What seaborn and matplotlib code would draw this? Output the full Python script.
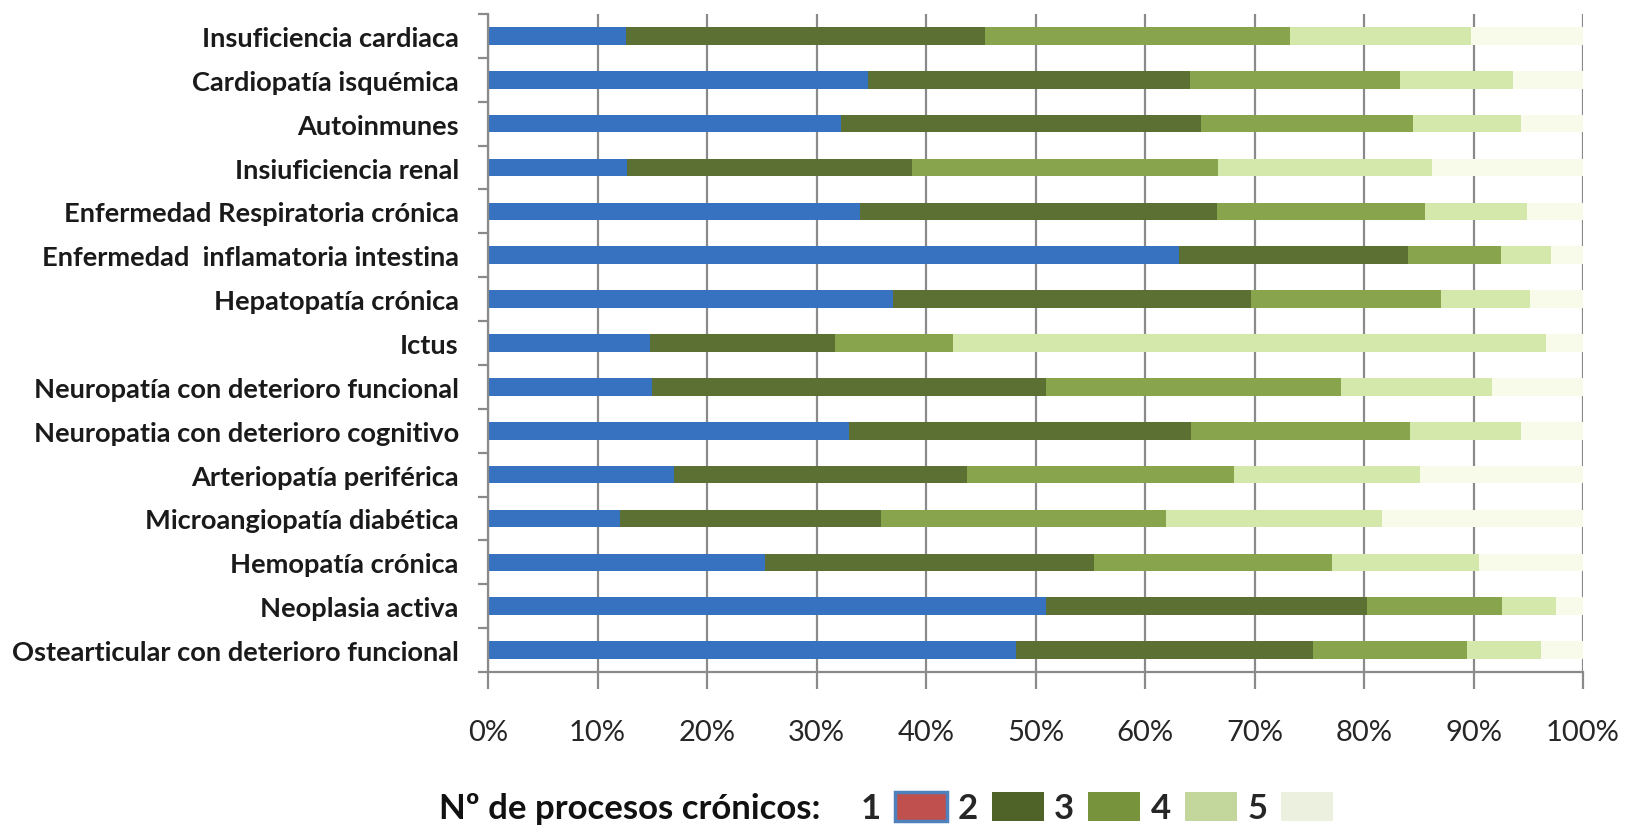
import matplotlib
matplotlib.use("Agg")
import matplotlib.pyplot as plt
from matplotlib.patches import Patch
from matplotlib.ticker import FixedLocator, PercentFormatter
import numpy as np
import pandas as pd
import seaborn as sns

# Chronic conditions (top to bottom)
categories = [
    "Insuficiencia cardiaca",
    "Cardiopatía isquémica",
    "Autoinmunes",
    "Insiuficiencia renal",
    "Enfermedad Respiratoria crónica",
    "Enfermedad  inflamatoria intestina",
    "Hepatopatía crónica",
    "Ictus",
    "Neuropatía con deterioro funcional",
    "Neuropatia con deterioro cognitivo",
    "Arteriopatía periférica",
    "Microangiopatía diabética",
    "Hemopatía crónica",
    "Neoplasia activa",
    "Ostearticular con deterioro funcional",
]

# Share of patients (%) by number of chronic processes
procesos_1 = [12.6, 34.7, 32.2, 12.7, 34.0, 63.1, 37.0, 14.8, 15.0, 33.0, 17.0, 12.1, 25.3, 51.0, 48.2]
procesos_2 = [32.8, 29.4, 32.9, 26.0, 32.6, 20.9, 32.7, 16.9, 36.0, 31.2, 26.7, 23.8, 30.0, 29.3, 27.1]
procesos_3 = [27.8, 19.2, 19.4, 28.0, 19.0, 8.5, 17.3, 10.8, 26.9, 20.0, 24.4, 26.0, 21.8, 12.3, 14.1]
procesos_4 = [16.6, 10.3, 9.8, 19.5, 9.3, 4.6, 8.2, 54.1, 13.8, 10.1, 17.0, 19.7, 13.4, 4.9, 6.8]
procesos_5 = [10.2, 6.4, 5.7, 13.8, 5.1, 2.9, 4.8, 3.4, 8.3, 5.7, 14.9, 18.4, 9.5, 2.5, 3.8]

series_labels = ["1", "2", "3", "4", "5"]
legend_title = "Nº de procesos crónicos:"

bar_colors = ["#3672BF", "#5C7033", "#88A44C", "#D5E8AC", "#F8FBEA"]
legend_colors = ["#C0504D", "#4F6228", "#77933C", "#C3D69B", "#EBF1DE"]

df = pd.DataFrame({
    "categoria": categories,
    "1": procesos_1, "2": procesos_2, "3": procesos_3,
    "4": procesos_4, "5": procesos_5,
})
cum = df[series_labels].cumsum(axis=1)

sns.set_theme(style="white")
label_font = ["Lato", "DejaVu Sans"]
plt.rcParams["font.family"] = label_font

fig = plt.figure(figsize=(16.26, 8.29), dpi=100)
ax = fig.add_axes([488 / 1626, 156 / 829, 1095 / 1626, 658 / 829])

# Stacked bars: draw cumulative totals from the outermost segment inwards
for key, color in reversed(list(zip(series_labels, bar_colors))):
    sns.barplot(x=cum[key], y=df["categoria"], orient="h", color=color,
                width=0.4, saturation=1, ax=ax, linewidth=0, zorder=2)

ax.set_xlim(0, 100)
ax.set_ylim(len(categories) - 0.5, -0.5)
ax.set_xlabel("")
ax.set_ylabel("")

grid_color = "#8A8A8A"
ax.set_xticks(np.arange(0, 101, 10))
ax.xaxis.set_major_formatter(PercentFormatter(decimals=0))
ax.set_axisbelow(True)
ax.grid(axis="x", color=grid_color, linewidth=1.6, zorder=0)
ax.grid(axis="y", visible=False)

for side in ["top", "right"]:
    ax.spines[side].set_visible(False)
for side in ["left", "bottom"]:
    ax.spines[side].set_color(grid_color)
    ax.spines[side].set_linewidth(1.6)

ax.yaxis.set_minor_locator(FixedLocator(np.arange(-0.5, len(categories), 1.0)))
ax.tick_params(axis="y", which="major", length=0, pad=21,
               labelsize=19.6, labelcolor="#1A1A1A")
ax.tick_params(axis="y", which="minor", left=True, length=7,
               width=1.6, color=grid_color)
ax.tick_params(axis="x", which="major", bottom=True, length=12, width=1.6,
               color=grid_color, pad=22, labelsize=21, labelcolor="#262626")
for lbl in ax.get_yticklabels():
    lbl.set_fontweight("bold")

# Legend: title text followed by label/patch pairs
legend_font = {"family": ["Lato", "DejaVu Sans"], "weight": "bold", "size": 25}
fig.text(820 / 1626, 1 - 809 / 829, legend_title, ha="right", va="center",
         color="#111111", **legend_font)
handles = []
for i, c in enumerate(legend_colors):
    if i == 0:
        handles.append(Patch(facecolor=c, edgecolor="#4F81BD", linewidth=2.5))
    else:
        handles.append(Patch(facecolor=c, edgecolor="none"))
fig.legend(handles, series_labels, loc="center left",
           bbox_to_anchor=(861 / 1626, 1 - 809 / 829), ncol=5, frameon=False,
           markerfirst=False, handlelength=1.5, handleheight=0.95,
           handletextpad=0.4, columnspacing=0.3, borderaxespad=0,
           borderpad=0, prop=legend_font)

fig.savefig("out.png", dpi=100)
